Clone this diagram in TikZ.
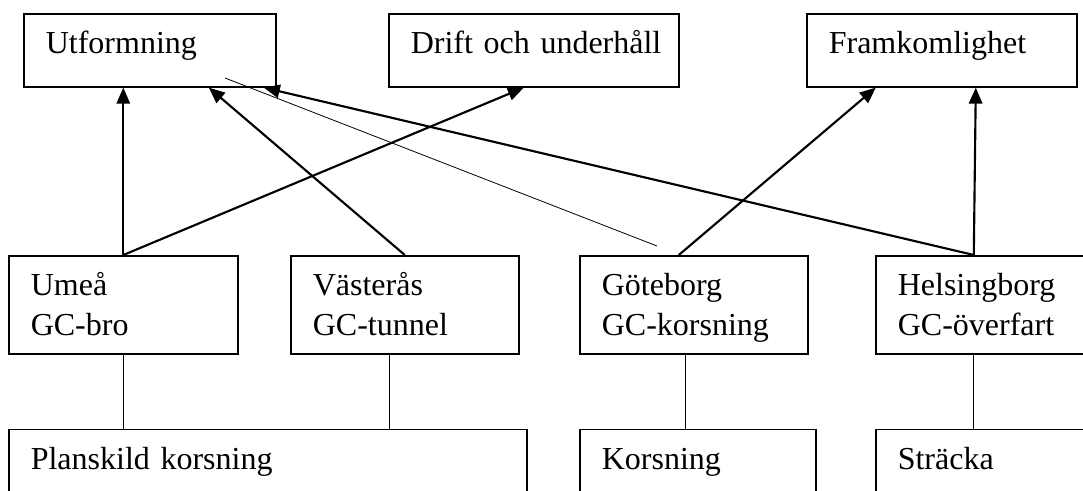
\documentclass[tikz,border=0pt]{standalone}
\usepackage{fontspec}
\setmainfont{Liberation Serif}
\usetikzlibrary{arrows.meta,calc}
\hfuzz=6pt

\begin{document}
\begin{tikzpicture}[x=0.75pt, y=-0.75pt, >={Triangle[length=12pt,width=10pt]},
    box/.style={draw, line width=1.2pt, anchor=north west, align=left,
      inner xsep=16.5pt, inner ysep=6pt, text height=24pt, text depth=18.75pt,
      font=\fontsize{24}{30}\selectfont},
    tallbox/.style={box, text depth=37.5pt},
    link/.style={line width=1.6pt, ->},
    tie/.style={line width=1pt}]
          \clip (0,0) rectangle (1083,490);
          \node[box, text width=156pt] (utf) at (23,13) {Utformning};
          \node[box, text width=184.5pt] (drift) at (388,13) {\mbox{Drift och underhåll}};
          \node[box, text width=169.5pt] (fram) at (806,13) {Framkomlighet};
          \node[tallbox, text width=138.75pt] (umea) at (8,255) {Umeå\\GC-bro};
          \node[tallbox, text width=138pt] (vast) at (290,255) {Västerås\\GC-tunnel};
          \node[tallbox, text width=138pt] (gbg) at (579,255) {Göteborg\\GC-korsning};
          \node[tallbox, text width=138pt] (hbg) at (875,255) {Helsingborg\\GC-överfart};
          \node[box, text width=355.5pt] (plan) at (8,428.5) {Planskild korsning};
          \node[box, text width=144pt] (kors) at (579,428.5) {Korsning};
          \node[box, text width=144pt] (str) at (875,428.5) {Sträcka};
          \draw[link] (umea.north) -- (umea.north |- utf.south);
          \draw[link] (umea.north) -- ($(drift.south)+(-10,0)$);
          \draw[link] (vast.north) -- ($(utf.south)+(59,0)$);
          \draw[link] ($(gbg.north)+(-15,0)$) -- ($(fram.south)+(-66,0)$);
          \draw[link] ($(hbg.north)+(-16,0)$) -- ($(fram.south)+(34,0)$);
          \draw[link] ($(hbg.north)+(-16,0)$) -- ($(utf.south)+(114,0)$);
          \coordinate (p1) at (225,78);
          \coordinate (p2) at (657,246);
          \draw[line width=0.6pt] (p1) -- (p2);
          \draw[tie] (umea.south) -- (umea.south |- plan.north);
          \draw[tie] ($(vast.south)+(-15,0)$) -- ($(vast.south |- plan.north)+(-15,0)$);
          \draw[tie] ($(gbg.south)+(-8,0)$) -- ($(gbg.south |- kors.north)+(-8,0)$);
          \draw[tie] ($(hbg.south)+(-16,0)$) -- ($(hbg.south |- str.north)+(-16,0)$);
        \end{tikzpicture}
\end{document}
